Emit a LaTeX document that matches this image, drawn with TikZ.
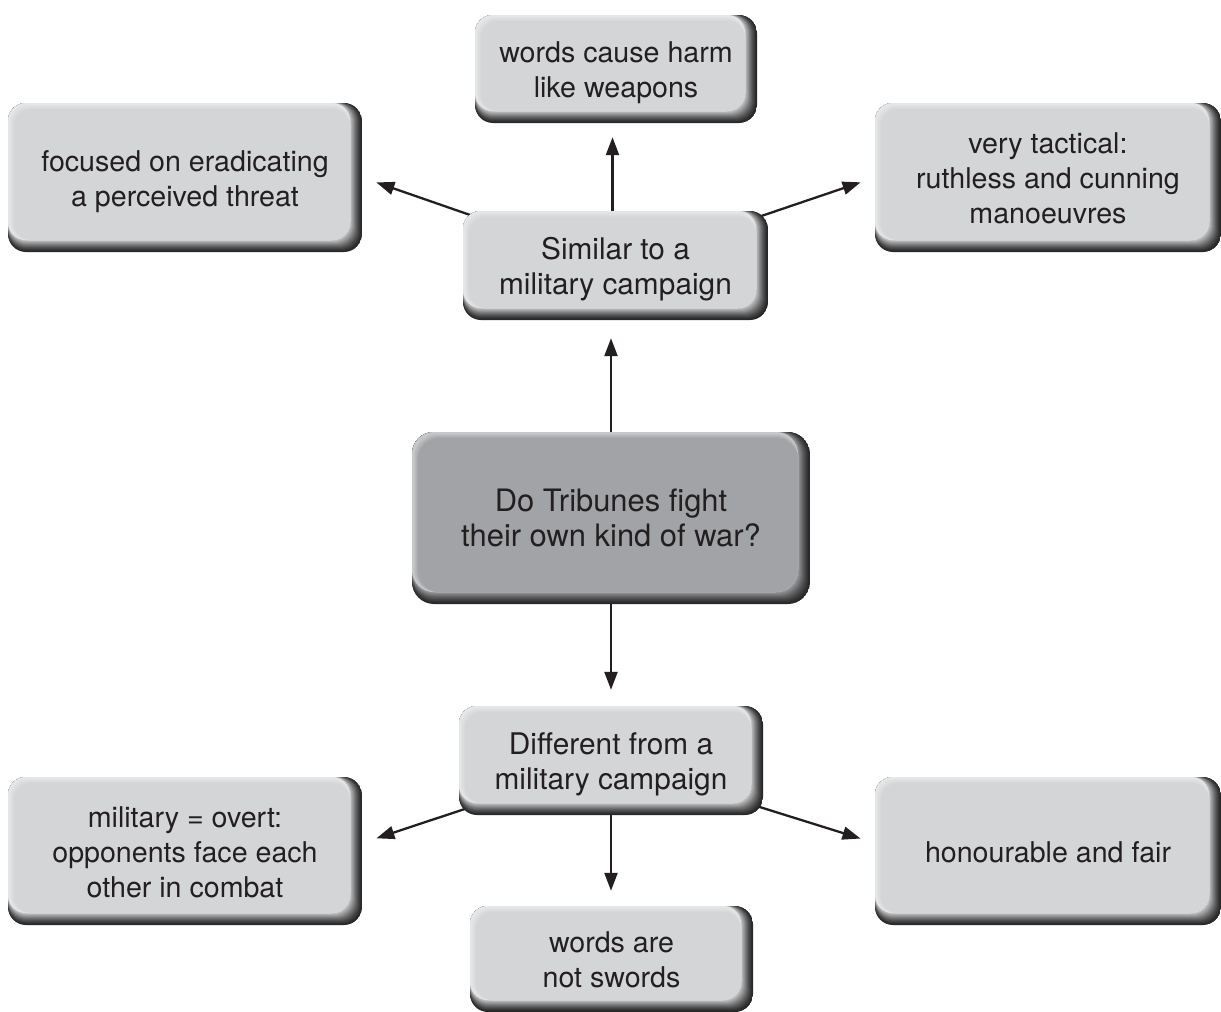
\documentclass[tikz,border=0pt]{standalone}
\usepackage{fontspec}
\setmainfont{TeX Gyre Heros}
\usetikzlibrary{arrows.meta}
\definecolor{boxlight}{RGB}{212,213,215}
\definecolor{boxmid}{RGB}{162,163,166}
\definecolor{edgedark}{RGB}{40,40,40}
\definecolor{txt}{RGB}{35,31,32}
\pgfdeclarelayer{background}
\pgfsetlayers{background,main}
\newcommand\bevelfill[2]{%
  \path (path picture bounding box.south west) coordinate (pa)
        (path picture bounding box.north east) coordinate (pb);
  \fill[edgedark] (pa) rectangle (pb);
  \foreach \i in {1,...,12}{%
    \pgfmathtruncatemacro\pc{100*(\i/12)^1.3}%
    \fill[#1!\pc!edgedark, rounded corners=#2]
      ([yshift=\i pt]pa) rectangle ([xshift=-\i pt]pb);
  }%
  \fill[#1!60!white, rounded corners=#2]
      ([yshift=12pt]pa) rectangle ([xshift=-12pt]pb);
  \foreach \j in {1,...,6}{%
    \pgfmathtruncatemacro\pc{52+\j*8}%
    \fill[#1!\pc!white, rounded corners=#2]
      ([xshift=\j pt,yshift=12pt]pa) rectangle ([xshift=-12pt,yshift=-\j pt]pb);
  }%
}
\newcommand\boxtext[1]{\raisebox{-4pt}[\height][\depth]{%
  \begin{tabular}{@{}c@{}}#1\end{tabular}}}
\tikzset{
  basebox/.style={rectangle, inner sep=0pt, text=txt,
    font=\fontsize{28.6}{35}\selectfont},
  lbox/.style={basebox, rounded corners=18pt,
    path picture={\bevelfill{boxlight}{18pt}}},
  mbox/.style={lbox, font=\fontsize{29.8}{35}\selectfont},
  cbox/.style={basebox, rounded corners=22pt,
    font=\fontsize{30.9}{35}\selectfont,
    path picture={\bevelfill{boxmid}{22pt}}},
  arr/.style={line width=2.3pt, draw=txt,
    -{Triangle[length=18pt,width=13pt]}}
}
\begin{document}
\begin{tikzpicture}[x=1pt,y=-1pt]
\useasboundingbox (0,0) rectangle (1221,1012);

\node[lbox, minimum width=282pt, minimum height=108pt] (top) at (616,69)
  {\boxtext{words cause harm\\like weapons}};
\node[lbox, minimum width=354pt, minimum height=149pt] (tl) at (185,177.5)
  {\boxtext{focused on eradicating\\a perceived threat}};
\node[lbox, minimum width=346pt, minimum height=149pt] (tr) at (1048,177.5)
  {\boxtext{very tactical:\\ruthless and cunning\\manoeuvres}};
\node[mbox, minimum width=305pt, minimum height=109pt] (s) at (615.5,265.5)
  {\boxtext{Similar to a\\military campaign}};
\node[cbox, minimum width=398pt, minimum height=172pt] (c) at (611,518)
  {\boxtext{Do Tribunes fight\\their own kind of war?}};
\node[mbox, minimum width=304pt, minimum height=109pt] (d) at (611,760.5)
  {\boxtext{Different from a\\military campaign}};
\node[lbox, minimum width=354pt, minimum height=148pt] (bl) at (185,851)
  {\boxtext{military = overt:\\opponents face each\\other in combat}};
\node[lbox, minimum width=346pt, minimum height=148pt] (br) at (1048,851)
  {\boxtext{honourable and fair}};
\node[lbox, minimum width=283pt, minimum height=106pt] (bot) at (611.5,959)
  {\boxtext{words are\\not swords}};

\begin{pgfonlayer}{background}
\fill[white] (0,0) rectangle (1221,1012);
\draw[arr, shorten >=18pt] (c.center) -- (c.center |- s.south);
\draw[arr, shorten >=14pt] ([xshift=-3pt]s.center) -- ([xshift=-3pt]s.center |- top.south);
\draw[arr, shorten >=15pt] (s.center) -- (tl.east);
\draw[arr, shorten >=15pt] (s.center) -- (tr.west);
\draw[arr, shorten >=16pt] (c.center) -- (c.center |- d.north);
\draw[arr, shorten >=15pt] (d.center) -- (d.center |- bot.north);
\draw[arr, shorten >=15pt] (d.center) -- ([yshift=8pt]bl.east);
\draw[arr, shorten >=15pt] (d.center) -- ([yshift=8pt]br.west);
\end{pgfonlayer}
\end{tikzpicture}
\end{document}
